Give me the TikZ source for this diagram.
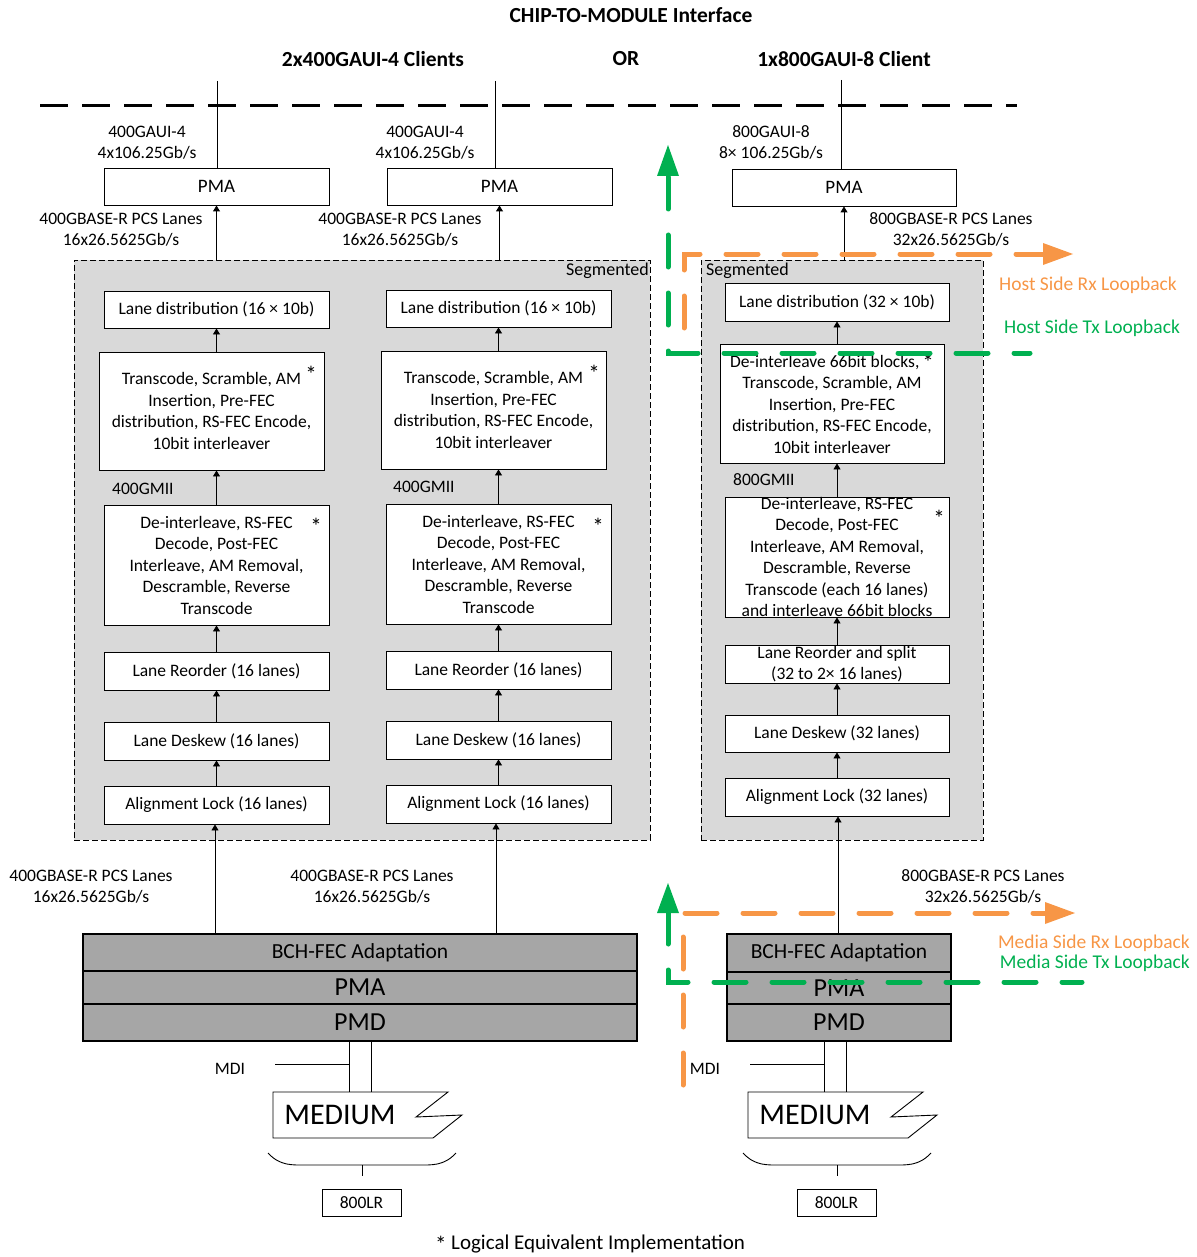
\documentclass[tikz,border=0pt]{standalone}
\usepackage{fontspec}
\setmainfont{Carlito}
\usetikzlibrary{arrows.meta}
\definecolor{segfill}{HTML}{D9D9D9}
\definecolor{stackfill}{HTML}{A6A6A6}
\definecolor{lbgreen}{HTML}{00B050}
\definecolor{lborange}{HTML}{F79646}
\begin{document}
\begin{tikzpicture}[x=1pt,y=-1pt,
  every node/.style={font=\fontsize{17.5}{21.5}\selectfont, inner sep=0pt},
  blk/.style={draw, line width=0.9pt, fill=white, align=center, minimum width=225pt, minimum height=38pt},
  segbox/.style={draw, line width=0.8pt, dash pattern=on 6pt off 3pt, fill=segfill},
  stack/.style={draw, line width=1.4pt, fill=stackfill, minimum width=#1},
  lbl/.style={align=center},
  star/.style={font=\fontsize{23}{24}\selectfont},
  arr/.style={-{Triangle[width=7pt,length=6pt]}, line width=0.9pt},
  wire/.style={line width=0.9pt},
  hdr/.style={font=\bfseries\fontsize{21.5}{24}\selectfont},
  loopg/.style={lbgreen, line width=5pt, line cap=round, dash pattern=on 32pt off 26pt},
  loopo/.style={lborange, line width=5pt, line cap=round, dash pattern=on 32pt off 26pt},
  looptxt/.style={font=\fontsize{19.5}{20}\selectfont},
  medium/.style={line width=0.9pt, fill=white}
]
\useasboundingbox (0,0) rectangle (1196,1257);

% ---------- headings ----------
\node[hdr] (title) at (631,15) {CHIP-TO-MODULE Interface};
\node[hdr] (h400) at (373,59) {2x400GAUI-4 Clients};
\node[hdr] (hor) at (626,59) {OR};
\node[hdr] (h800) at (844,59) {1x800GAUI-8 Client};

% chip-to-module boundary
\draw[line width=3pt, dash pattern=on 28pt off 14pt] (40,106) -- (1017,106);

% ---------- segmented PCS regions ----------
\node[segbox, minimum width=576pt, minimum height=580pt] (seg1) at (362,550) {};
\node[segbox, minimum width=282pt, minimum height=580pt] (seg2) at (842,550) {};
\node[font=\fontsize{18}{20}\selectfont, anchor=east] (seg1l) at (649,271) {Segmented};
\node[font=\fontsize{18}{20}\selectfont, anchor=west] (seg2l) at (706,271) {Segmented};

% ---------- PMA (host side) ----------
\node[blk, font=\fontsize{19}{21}\selectfont, minimum height=37pt] (pma1) at (216.5,186.5) {PMA};
\node[blk, font=\fontsize{19}{21}\selectfont, minimum height=37pt] (pma2) at (499.5,186.5) {PMA};
\node[blk, font=\fontsize{19}{21}\selectfont, minimum width=224pt, minimum height=37pt] (pma3) at (844,187.5) {PMA};

\coordinate (t1) at (217,81);
\coordinate (t2) at (495,81);
\coordinate (t3) at (841,80);
\draw[wire] (t1) -- (t1 |- pma1.north);
\draw[wire] (t2) -- (t2 |- pma2.north);
\draw[wire] (t3) -- (t3 |- pma3.north);

\node[lbl] (g1) at (147,142.5) {400GAUI-4\\4x106.25Gb/s};
\node[lbl] (g2) at (425,142.5) {400GAUI-4\\4x106.25Gb/s};
\node[lbl] (g3) at (771,142.5) {800GAUI-8\\8× 106.25Gb/s};

\node[lbl] (p1) at (121,229.5) {400GBASE-R PCS Lanes\\16x26.5625Gb/s};
\node[lbl] (p2) at (400,229.5) {400GBASE-R PCS Lanes\\16x26.5625Gb/s};
\node[lbl] (p3) at (951,229.5) {800GBASE-R PCS Lanes\\32x26.5625Gb/s};

\draw[arr] (pma1.south |- seg1.north) -- (pma1.south);
\draw[arr] (pma2.south |- seg1.north) -- (pma2.south);
\draw[arr] (pma3.south |- seg2.north) -- (pma3.south);

% ---------- left 400G column ----------
\node[blk, minimum height=37pt] (ld1) at (216.5,309.5) {Lane distribution (16 × 10b)};
\node[blk, minimum height=118pt] (tr1) at (211.5,411) {Transcode, Scramble, AM\\Insertion, Pre-FEC\\distribution, RS-FEC Encode,\\10bit interleaver};
\node[star] (tr1s) at (311,374) {*};
\node[anchor=west] (mii1) at (112,489) {400GMII};
\node[blk, minimum height=120pt] (di1) at (216.5,565) {De-interleave, RS-FEC\\Decode, Post-FEC\\Interleave, AM Removal,\\Descramble, Reverse\\Transcode};
\node[star] (di1s) at (316,526) {*};
\node[blk] (lr1) at (216.5,671) {Lane Reorder (16 lanes)};
\node[blk] (dk1) at (216.5,741) {Lane Deskew (16 lanes)};
\node[blk] (al1) at (216.5,805) {Alignment Lock (16 lanes)};

\draw[arr] (tr1.north -| ld1.south) -- (ld1.south);
\draw[arr] (di1.north) -- (di1.north |- tr1.south);
\draw[arr] (lr1.north) -- (di1.south);
\draw[arr] (dk1.north) -- (lr1.south);
\draw[arr] (al1.north) -- (dk1.south);

% ---------- middle 400G column ----------
\node[blk, minimum height=37pt] (ld2) at (498.5,308.5) {Lane distribution (16 × 10b)};
\node[blk, minimum height=118pt] (tr2) at (493.5,410) {Transcode, Scramble, AM\\Insertion, Pre-FEC\\distribution, RS-FEC Encode,\\10bit interleaver};
\node[star] (tr2s) at (594,373) {*};
\node[anchor=west] (mii2) at (393,487) {400GMII};
\node[blk, minimum height=120pt] (di2) at (498.5,564) {De-interleave, RS-FEC\\Decode, Post-FEC\\Interleave, AM Removal,\\Descramble, Reverse\\Transcode};
\node[star] (di2s) at (598,526) {*};
\node[blk] (lr2) at (498.5,670) {Lane Reorder (16 lanes)};
\node[blk] (dk2) at (498.5,740) {Lane Deskew (16 lanes)};
\node[blk] (al2) at (498.5,804) {Alignment Lock (16 lanes)};

\draw[arr] (tr2.north -| ld2.south) -- (ld2.south);
\draw[arr] (di2.north) -- (di2.north |- tr2.south);
\draw[arr] (lr2.north) -- (di2.south);
\draw[arr] (dk2.north) -- (lr2.south);
\draw[arr] (al2.north) -- (dk2.south);

% ---------- 800G column ----------
\node[blk, minimum width=224pt] (ld3) at (837,302) {Lane distribution (32 × 10b)};
\node[blk, minimum width=224pt, minimum height=119pt] (tr3) at (832,403.5) {De-interleave 66bit blocks,\,{\fontsize{23}{21.5}\selectfont\raisebox{-3pt}{*}}\\Transcode, Scramble, AM\\Insertion, Pre-FEC\\distribution, RS-FEC Encode,\\10bit interleaver};
\node[anchor=west] (mii3) at (733,480) {800GMII};
\node[blk, minimum width=224pt, minimum height=120pt] (di3) at (837,557) {De-interleave, RS-FEC\\Decode, Post-FEC\\Interleave, AM Removal,\\Descramble, Reverse\\Transcode (each 16 lanes)\\and interleave 66bit blocks};
\node[star] (di3s) at (939,518) {*};
\node[blk, minimum width=224pt] (lr3) at (837,664) {Lane Reorder and split\\(32 to 2× 16 lanes)};
\node[blk, minimum width=224pt, minimum height=37pt] (dk3) at (837,733.5) {Lane Deskew (32 lanes)};
\node[blk, minimum width=224pt] (al3) at (837,797) {Alignment Lock (32 lanes)};

\draw[arr] (tr3.north -| ld3.south) -- (ld3.south);
\draw[arr] (di3.north) -- (di3.north |- tr3.south);
\draw[arr] (lr3.north) -- (di3.south);
\draw[arr] (dk3.north) -- (lr3.south);
\draw[arr] (al3.north) -- (dk3.south);

% ---------- media side stacks ----------
\node[stack=554pt, minimum height=37pt, font=\fontsize{21.5}{24}\selectfont] (bch1) at (360,952.5) {BCH-FEC Adaptation};
\node[stack=554pt, minimum height=33pt, font=\fontsize{26}{28}\selectfont] (pmaL) at (360,987.5) {PMA};
\node[stack=554pt, minimum height=37pt, font=\fontsize{26}{28}\selectfont] (pmd1) at (360,1022.5) {PMD};

\node[stack=224pt, minimum height=38pt, font=\fontsize{21.5}{24}\selectfont] (bch2) at (839,953) {BCH-FEC Adaptation};
\node[stack=224pt, minimum height=32pt, font=\fontsize{26}{28}\selectfont] (pmaR) at (839,988) {PMA};
\node[stack=224pt, minimum height=37pt, font=\fontsize{26}{28}\selectfont] (pmd2) at (839,1022.5) {PMD};

\coordinate (b1) at (215,0);
\coordinate (b2) at (496,0);
\coordinate (b3) at (838,0);
\draw[arr] (b1 |- bch1.north) -- (b1 |- al1.south);
\draw[arr] (b2 |- bch1.north) -- (b2 |- al2.south);
\draw[arr] (b3 |- bch2.north) -- (b3 |- al3.south);

\node[lbl] (q1) at (91,886.5) {400GBASE-R PCS Lanes\\16x26.5625Gb/s};
\node[lbl] (q2) at (372,886.5) {400GBASE-R PCS Lanes\\16x26.5625Gb/s};
\node[lbl] (q3) at (983,886.5) {800GBASE-R PCS Lanes\\32x26.5625Gb/s};

% ---------- MDI and medium (left) ----------
\draw[wire] ([xshift=-11pt]pmd1.south) -- ++(0,51);
\draw[wire] ([xshift=11pt]pmd1.south) -- ++(0,51);
\draw[wire] (275,1064) -- (349,1064);
\node (mdi1) at (230,1069) {MDI};
\draw[medium] (273,1092) -- (448,1092) -- (416,1117) -- (462,1115) -- (433,1138) -- (273,1138) -- cycle;
\node[font=\fontsize{30}{32}\selectfont] (med1) at (340,1115) {MEDIUM};
\draw[wire] (268,1153) .. controls (280,1166) and (292,1165) .. (306,1165) -- (418,1165) .. controls (432,1165) and (444,1166) .. (456,1153);
\node[draw, line width=0.9pt, minimum width=79pt, minimum height=27pt] (lr800a) at (361.5,1202.5) {800LR};
\draw[wire] (362,1165) -- (362,1176);

% ---------- MDI and medium (right) ----------
\draw[wire] ([xshift=-15pt]pmd2.south) -- ++(0,51);
\draw[wire] ([xshift=7pt]pmd2.south) -- ++(0,51);
\draw[wire] (750,1064) -- (824,1064);
\node (mdi2) at (705,1069) {MDI};
\draw[medium] (748,1092) -- (923,1092) -- (891,1117) -- (937,1115) -- (908,1138) -- (748,1138) -- cycle;
\node[font=\fontsize{30}{32}\selectfont] (med2) at (815,1115) {MEDIUM};
\draw[wire] (743,1153) .. controls (755,1166) and (767,1165) .. (781,1165) -- (893,1165) .. controls (907,1165) and (919,1166) .. (931,1153);
\node[draw, line width=0.9pt, minimum width=79pt, minimum height=27pt] (lr800b) at (836.5,1202.5) {800LR};
\draw[wire] (837,1165) -- (837,1176);

% ---------- loopbacks ----------
% host side
\draw[loopo] (684,328) -- (684,254) -- (1043,254);
\fill[lborange] (1073,254) -- (1043,243) -- (1043,265) -- cycle;
\draw[loopg] (668,177) -- (668,353) -- (1030,353);
\fill[lbgreen] (668,145) -- (679,176) -- (657,176) -- cycle;
\node[looptxt, text=lborange, anchor=west] (hrx) at (999,285) {Host Side Rx Loopback};
\node[looptxt, text=lbgreen, anchor=west] (htx) at (1004,328) {Host Side Tx Loopback};

% media side
\draw[loopo] (683,1085) -- (683,913) -- (1045,913);
\fill[lborange] (1075,913) -- (1045,902) -- (1045,924) -- cycle;
\draw[loopg] (668,912) -- (668,982) -- (1082,982);
\fill[lbgreen] (668,883) -- (679,913) -- (657,913) -- cycle;
\node[looptxt, text=lborange, anchor=east] (mrx) at (1190,943) {Media Side Rx Loopback};
\node[looptxt, text=lbgreen, anchor=east] (mtx) at (1190,963) {Media Side Tx Loopback};

% ---------- footnote ----------
\node[font=\fontsize{21}{24}\selectfont] (foot) at (590,1244) {{\fontsize{23}{24}\selectfont\raisebox{-3pt}{*}} Logical Equivalent Implementation};
\end{tikzpicture}
\end{document}
